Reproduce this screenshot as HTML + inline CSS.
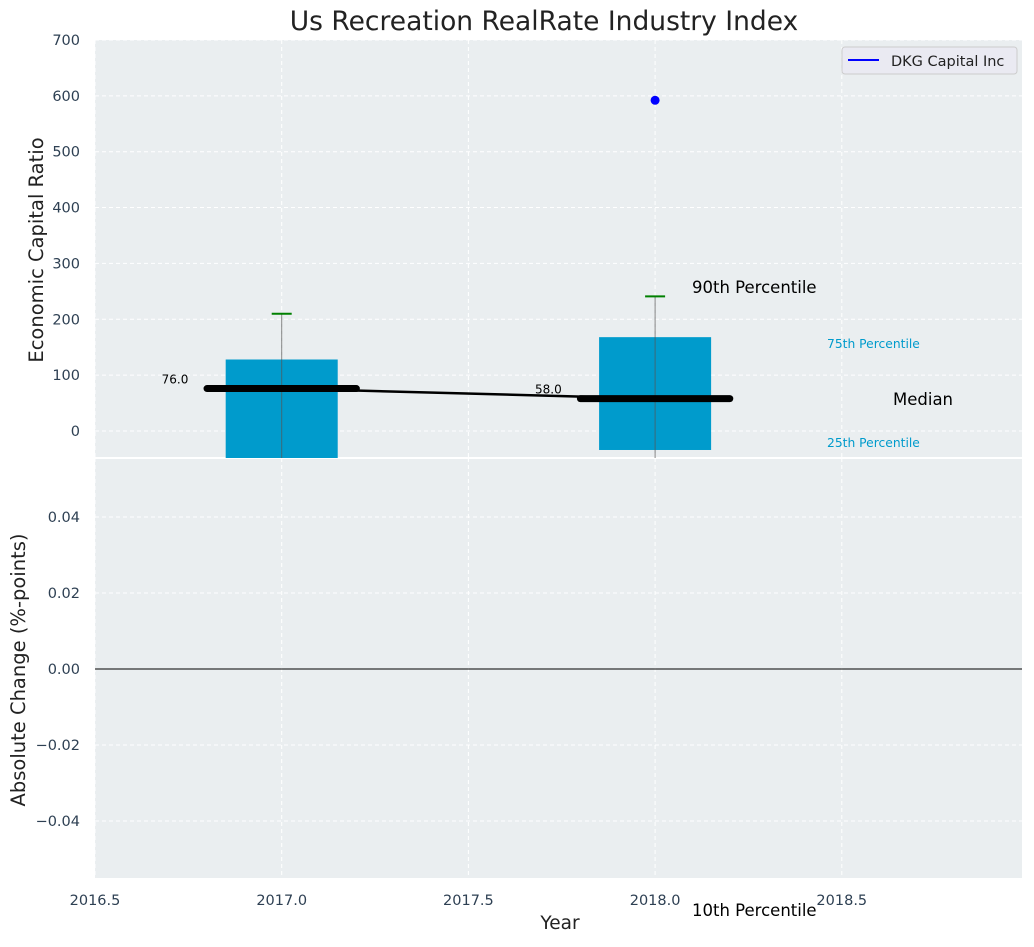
<!DOCTYPE html>
<html><head><meta charset="utf-8"><style>
body{margin:0;background:#fff;font-family:"Liberation Sans","DejaVu Sans",sans-serif}
svg text{font-family:"DejaVu Sans","Liberation Sans",sans-serif}
</style></head><body>
<svg id="c" width="1034" height="942" xmlns="http://www.w3.org/2000/svg"></svg>
<script>
const years=[2017,2018];
const p90=[210,241];
const p75=[128,168];
const p25=[-60,-34];
const medians=[76,58];
const companyYears=[2018];
const companyValues=[592];
const xTicks=[2016.5,2017.0,2017.5,2018.0,2018.5];
const yTopTicks=[0,100,200,300,400,500,600,700];
const yBotTicks=[-0.04,-0.02,0.00,0.02,0.04];

const NS="http://www.w3.org/2000/svg";
const svg=document.getElementById('c');
function mk(t,a,p){const e=document.createElementNS(NS,t);for(const k in a)e.setAttribute(k,a[k]);(p||svg).appendChild(e);return e;}
const L=95,R=1022,T1=40,B1=458,T2=458,B2=878;
const x=v=>L+(v-2016.5)*373.4;
const y1=v=>431-v*0.5586;
const y2=v=>669-v*3800;

let e;
e=mk('rect',{x:L,y:T1,width:R-L,height:B1-T1,fill:'#eaeef0'});

e=mk('rect',{x:L,y:T2+1,width:R-L,height:B2-T2-1,fill:'#eaeef0'});

mk('line',{x1:L,x2:R,y1:458,y2:458,stroke:'#fff','stroke-width':2});

const clip=mk('clipPath',{id:'cp1'});mk('rect',{x:L,y:T1,width:R-L,height:B1-T1},clip);
const g1=mk('g',{'clip-path':'url(#cp1)'});
xTicks.forEach(t=>{
  mk('line',{x1:x(t),x2:x(t),y1:T1,y2:B1,stroke:'#fff','stroke-dasharray':'4,3','stroke-width':1},g1);
  mk('line',{x1:x(t),x2:x(t),y1:T2,y2:B2,stroke:'#fff','stroke-dasharray':'4,3','stroke-width':1});
  e=mk('text',{x:x(t),y:905,'text-anchor':'middle','font-size':14.5,fill:'#2e4053'});e.textContent=t.toFixed(1);
  
});
yTopTicks.forEach(t=>{
  mk('line',{x1:L,x2:R,y1:y1(t),y2:y1(t),stroke:'#fff','stroke-dasharray':'4,3'},g1);
  e=mk('text',{x:80,y:y1(t)+5,'text-anchor':'end','font-size':14.5,fill:'#2e4053'});e.textContent=t;
  
});
yBotTicks.forEach(t=>{
  mk('line',{x1:L,x2:R,y1:y2(t),y2:y2(t),stroke:'#fff','stroke-dasharray':'4,3'});
  e=mk('text',{x:80,y:y2(t)+5,'text-anchor':'end','font-size':14.5,fill:'#2e4053'});e.textContent=(t<0?'\u2212':'')+Math.abs(t).toFixed(2);
  
});
mk('line',{x1:L,x2:R,y1:y2(0),y2:y2(0),stroke:'#000','stroke-width':1});

years.forEach((yr,i)=>{
  const xl=x(yr-0.15),xr=x(yr+0.15);
  e=mk('rect',{x:xl,y:y1(p75[i]),width:xr-xl,height:y1(p25[i])-y1(p75[i]),fill:'#009bcc'},g1);
  
  e=mk('line',{x1:x(yr),x2:x(yr),y1:y1(p90[i]),y2:B1,stroke:'#555','stroke-width':1,opacity:0.7},g1);
  
  e=mk('line',{x1:x(yr)-10,x2:x(yr)+10,y1:y1(p90[i]),y2:y1(p90[i]),stroke:'green','stroke-width':2},g1);
  
});
const pts=years.map((yr,i)=>x(yr)+','+y1(medians[i])).join(' ');
mk('polyline',{points:pts,fill:'none',stroke:'#000','stroke-width':2.5},g1);
years.forEach((yr,i)=>{
  e=mk('line',{x1:x(yr-0.2),x2:x(yr+0.2),y1:y1(medians[i]),y2:y1(medians[i]),stroke:'#000','stroke-width':7,'stroke-linecap':'round'},g1);
  
  e=mk('text',{x:x(yr-0.25),y:y1(medians[i])-5,'text-anchor':'end','font-size':12,fill:'#000'});e.textContent=medians[i].toFixed(1);
  
});
companyYears.forEach((yr,i)=>{
  e=mk('circle',{cx:x(yr),cy:y1(companyValues[i]),r:4.5,fill:'blue'},g1);
  
});
function txt(s,xx,yy,sz,fill,name,extra){const t=mk('text',Object.assign({x:xx,y:yy,'font-size':sz,fill:fill},extra||{}));t.textContent=s;return t;}
txt('90th Percentile',692,293,16.5,'#000','p90-annotation');
txt('75th Percentile',827,348,12.3,'#009bcc','p75-annotation');
txt('Median',893,405,16.5,'#000','median-annotation');
txt('25th Percentile',827,447,12.3,'#009bcc','p25-annotation');
txt('10th Percentile',692,916,16.5,'#000','p10-annotation');
txt('Us Recreation RealRate Industry Index',544,30,26.5,'#222','chart-title',{'text-anchor':'middle'});
txt('Year',560,929,18.5,'#222','x-axis-title',{'text-anchor':'middle'});
txt('Economic Capital Ratio',43,250,19.5,'#222','y-top-axis-title',{'text-anchor':'middle',transform:'rotate(-90 43 250)'});
txt('Absolute Change (%-points)',25,670,19.5,'#222','y-bottom-axis-title',{'text-anchor':'middle',transform:'rotate(-90 25 670)'});
const lg=mk('g',{});
mk('rect',{x:842,y:47,width:175,height:27,rx:3,fill:'#eaeaf2',stroke:'#ccc'},lg);
mk('line',{x1:848,x2:879,y1:60,y2:60,stroke:'blue','stroke-width':2},lg);
e=mk('text',{x:891,y:66,'font-size':14.5,fill:'#222'},lg);e.textContent='DKG Capital Inc';

</script>
</body></html>
